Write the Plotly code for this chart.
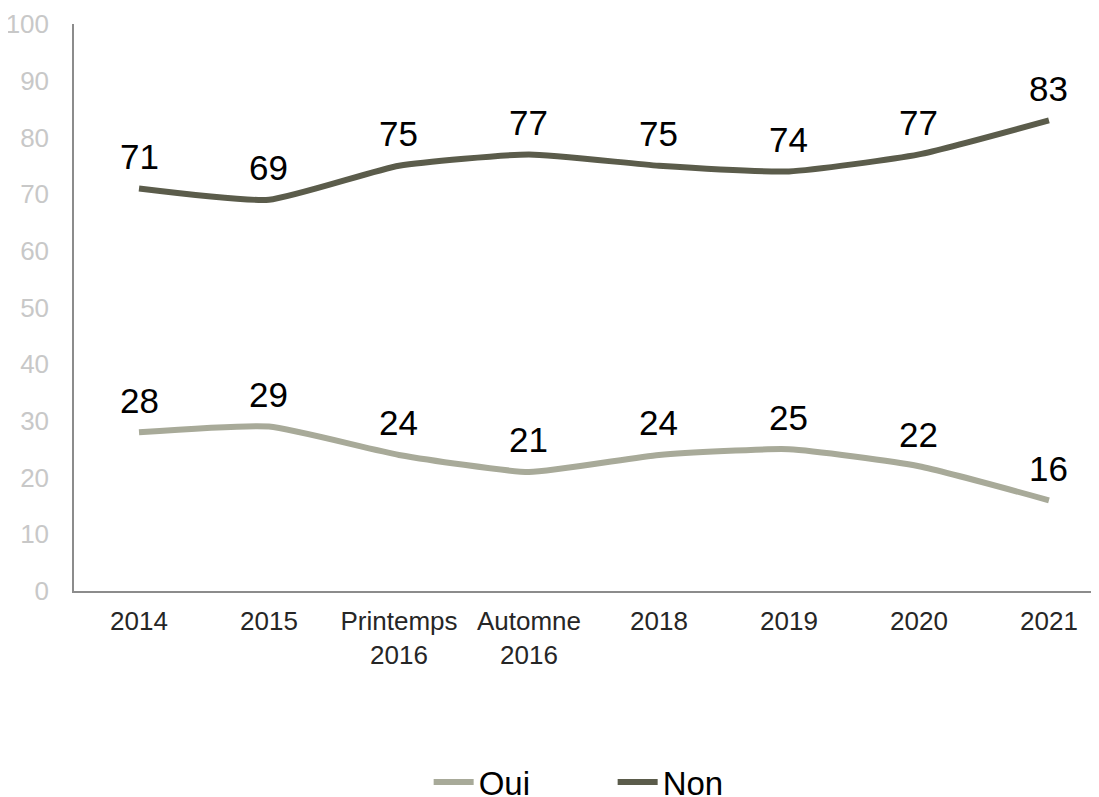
import plotly.graph_objects as go

categories = ["2014", "2015", "Printemps<br>2016", "Automne<br>2016", "2018", "2019", "2020", "2021"]
oui = [28, 29, 24, 21, 24, 25, 22, 16]
non = [71, 69, 75, 77, 75, 74, 77, 83]
y_ticks = [0, 10, 20, 30, 40, 50, 60, 70, 80, 90, 100]

c_oui = "#a8aa99"
c_non = "#5b5c4b"
font_family = "Liberation Sans, Arial, sans-serif"

fig = go.Figure()
fig.add_trace(go.Scatter(x=categories, y=oui, name="Oui", mode="lines",
                         line=dict(color=c_oui, width=6, shape="spline", smoothing=0.5)))
fig.add_trace(go.Scatter(x=categories, y=non, name="Non", mode="lines",
                         line=dict(color=c_non, width=6, shape="spline", smoothing=0.5)))

for series in (oui, non):
    for i, v in enumerate(series):
        fig.add_annotation(x=i, y=v, xref="x", yref="y", text=str(v), showarrow=False,
                           yanchor="middle", yshift=32,
                           font=dict(size=35, color="#000000", family=font_family))

fig.update_layout(
    width=1091, height=789,
    margin=dict(l=66, r=0, t=16, b=206, autoexpand=False),
    paper_bgcolor="white", plot_bgcolor="white",
    font=dict(family=font_family),
    showlegend=True,
    legend=dict(orientation="h", x=0.346, xanchor="left", y=-0.337, yanchor="middle",
                font=dict(size=33, color="#000000"), entrywidth=129, entrywidthmode="pixels",
                itemwidth=40, tracegroupgap=0),
)
fig.update_xaxes(type="category", range=[-0.5, 7.385], showgrid=False, zeroline=False,
                 showline=True, linecolor="#8c8c8c", linewidth=1.5, ticks="",
                 automargin=False,
                 tickfont=dict(size=26, color="#262626"), ticklabelstandoff=6)
fig.update_yaxes(range=[0, 100], tickvals=y_ticks, showgrid=False, zeroline=False,
                 showline=True, linecolor="#8c8c8c", linewidth=1.5, ticks="",
                 automargin=False,
                 tickfont=dict(size=26, color="#c8c8c8"), ticklabelstandoff=18)

fig.write_html("out.html")
